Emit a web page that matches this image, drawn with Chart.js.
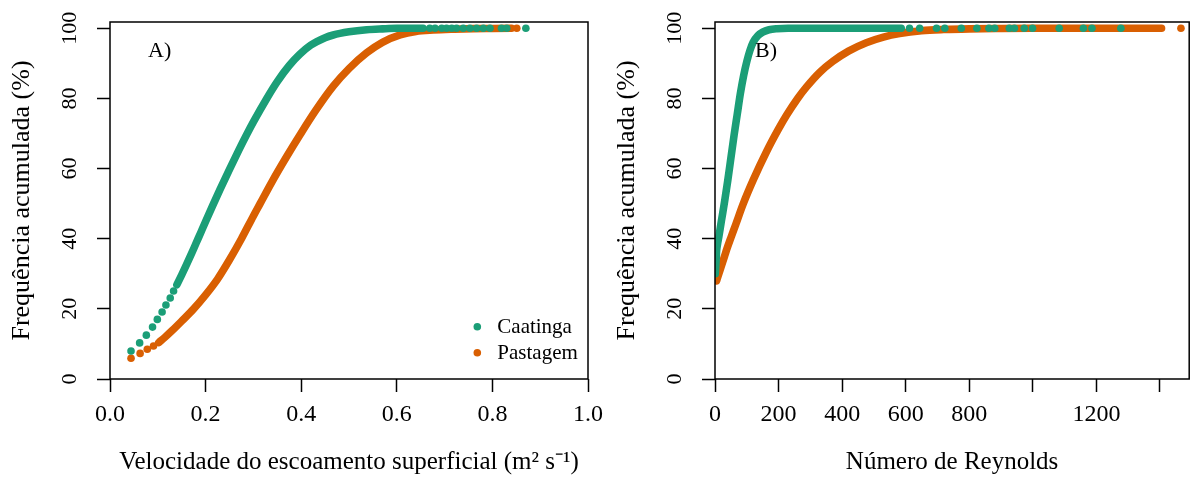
<!DOCTYPE html>
<html>
<head>
<meta charset="utf-8">
<script src="https://cdn.jsdelivr.net/npm/chart.js@4/dist/chart.umd.min.js"></script>
<style>
  html, body { margin: 0; padding: 0; background: #ffffff; }
  #wrap { position: relative; width: 1193px; height: 479px; overflow: hidden; background: #ffffff; }
  canvas { position: absolute; top: 0; }
  #panelA { left: 0; }
  #panelB { left: 600px; }
</style>
</head>
<body>
<div id="wrap">
  <canvas id="panelA" width="640" height="479"></canvas>
  <canvas id="panelB" width="593" height="479"></canvas>
</div>
<script>
// ---- series names and colours ----
const seriesNames = ['Caatinga', 'Pastagem'];
const seriesColors = ['#1b9e77', '#d95f02'];

// ---- shared y axis (cumulative frequency, %) ----
const freqTicks = [0, 20, 40, 60, 80, 100];

// ---- panel A: surface flow velocity (m2 s-1) ----
const velTicks = [0, 0.2, 0.4, 0.6, 0.8, 1.0];
const velTickLabels = ['0.0', '0.2', '0.4', '0.6', '0.8', '1.0'];

// Caatinga: isolated low/high observations and the dense central run
const velCaatingaDotsX = [0.044, 0.062, 0.076, 0.089, 0.099, 0.109, 0.117, 0.126, 0.133,
  0.669, 0.680, 0.694, 0.704, 0.715, 0.725, 0.739, 0.753, 0.767, 0.781, 0.795, 0.819, 0.830, 0.870];
const velCaatingaDotsY = [8.0, 10.3, 12.5, 14.8, 17.0, 19.1, 21.1, 23.1, 25.1,
  100, 100, 100, 100, 100, 100, 100, 100, 100, 100, 100, 100, 100, 100];
const velCaatingaX = [0.140, 0.150, 0.160, 0.170, 0.180, 0.190, 0.200, 0.215, 0.230, 0.250, 0.270, 0.286,
  0.300, 0.328, 0.350, 0.375, 0.397, 0.420, 0.450, 0.467, 0.500, 0.537, 0.570, 0.600, 0.655];
const velCaatingaY = [26.9, 29.7, 32.6, 35.6, 38.7, 41.8, 44.9, 49.5, 54.0, 59.8, 65.4, 69.7,
  73.3, 80.0, 84.8, 89.4, 92.6, 95.2, 97.3, 98.1, 99.0, 99.6, 99.85, 100, 100];

// Pastagem
const velPastagemDotsX = [0.044, 0.063, 0.078, 0.091, 0.851];
const velPastagemDotsY = [5.9, 7.3, 8.5, 9.4, 100];
const velPastagemX = [0.102, 0.115, 0.130, 0.150, 0.175, 0.200, 0.225, 0.250, 0.275, 0.300, 0.314, 0.340, 0.370,
  0.397, 0.430, 0.467, 0.500, 0.537, 0.570, 0.607, 0.640, 0.676, 0.720, 0.760, 0.800, 0.840];
const velPastagemY = [10.4, 11.9, 13.8, 16.5, 20.0, 24.0, 28.5, 34.0, 40.0, 46.5, 50.0, 56.5, 63.5,
  69.5, 76.5, 83.5, 88.5, 93.0, 96.0, 98.1, 99.1, 99.5, 99.75, 99.9, 99.95, 100];

// ---- panel B: Reynolds number ----
const reyTicks = [0, 200, 400, 600, 800, 1000, 1200, 1400];
const reyTickLabels = ['0', '200', '400', '600', '800', '', '1200', ''];

const reyCaatingaX = [1, 3, 5, 8, 12, 20, 30, 40, 50, 60, 70, 80, 90, 100, 110, 120, 135, 150, 170, 195,
  230, 300, 400, 500, 586];
const reyCaatingaY = [30, 33, 36.5, 38.5, 40.5, 45, 50.5, 56.5, 63, 69.5, 75.5, 81.5, 86.5, 90.5, 93.7, 96.0,
  97.9, 98.9, 99.6, 99.9, 100, 100, 100, 100, 100];
const reyCaatingaDotsX = [612, 644, 697, 723, 775, 824, 862, 880, 926, 942, 973, 999, 1083, 1159, 1186, 1277];
const reyCaatingaDotsY = [100, 100, 100, 100, 100, 100, 100, 100, 100, 100, 100, 100, 100, 100, 100, 100];

const reyPastagemX = [5, 12, 20, 30, 37, 50, 65, 89, 120, 162, 200, 225, 260, 288, 330, 371, 420, 476, 530,
  581, 650, 720, 800, 900, 1000, 1100, 1200, 1300, 1405];
const reyPastagemY = [28, 30, 32.2, 35, 37, 40.3, 44, 50, 56.7, 64.8, 71.3, 75.2, 80, 83.3, 87.5, 90.6, 93.5,
  95.9, 97.5, 98.5, 99.3, 99.65, 99.85, 99.95, 100, 100, 100, 100, 100];
const reyPastagemDotsX = [1466];
const reyPastagemDotsY = [100];

// ---- helpers ----
const SERIF = '"Liberation Serif", "Times New Roman", serif';
const DOT_R = 3.8;
const BAND_W = 7.6;

function pts(xs, ys) { return xs.map((x, i) => ({ x: x, y: ys[i] })); }

function band(idx, xs, ys) {
  return {
    label: seriesNames[idx], legendEntry: true, order: idx * 2,
    data: pts(xs, ys), showLine: true,
    borderColor: seriesColors[idx], backgroundColor: seriesColors[idx],
    borderWidth: BAND_W, borderCapStyle: 'round', borderJoinStyle: 'round',
    cubicInterpolationMode: 'monotone',
    pointRadius: 0, pointHoverRadius: 0
  };
}
function dots(idx, xs, ys) {
  return {
    label: seriesNames[idx], legendEntry: false, order: idx * 2 + 1,
    data: pts(xs, ys), showLine: false,
    backgroundColor: seriesColors[idx], borderColor: seriesColors[idx],
    pointRadius: DOT_R, pointBorderWidth: 0, pointHoverRadius: DOT_R
  };
}

// plot frame, panel tag and inset legend
const framePlugin = {
  id: 'frame',
  afterDraw(chart, args, opts) {
    const { ctx, chartArea: a } = chart;
    ctx.save();
    ctx.strokeStyle = '#000';
    ctx.lineWidth = 1.5;
    ctx.strokeRect(a.left, a.top, a.right - a.left, a.bottom - a.top);
    if (opts.tag) {
      ctx.fillStyle = '#000';
      ctx.font = '22px ' + SERIF;
      ctx.textBaseline = 'alphabetic';
      ctx.textAlign = 'left';
      ctx.fillText(opts.tag, a.left + opts.tagDx, a.top + opts.tagDy);
    }
    if (opts.legend) {
      const items = chart.data.datasets.filter(d => d.legendEntry);
      ctx.font = '21px ' + SERIF;
      ctx.textBaseline = 'middle';
      items.forEach((d, i) => {
        const x = a.right - 110.7;
        const y = a.bottom - 52.3 + i * 26;
        ctx.fillStyle = d.borderColor;
        ctx.beginPath();
        ctx.arc(x, y, DOT_R, 0, Math.PI * 2);
        ctx.fill();
        ctx.fillStyle = '#000';
        ctx.fillText(d.label, x + 20, y + 1);
      });
    }
    ctx.restore();
  }
};

function axisGrid() {
  return { drawOnChartArea: false, drawTicks: true, tickLength: 13, tickWidth: 1.5,
           tickColor: '#000', color: '#000' };
}

function makeChart(canvasId, cfg) {
  return new Chart(document.getElementById(canvasId), {
    type: 'scatter',
    data: { datasets: cfg.datasets },
    plugins: [framePlugin],
    options: {
      responsive: false,
      animation: false,
      events: [],
      layout: { padding: { left: 0, right: cfg.padRight, top: 22, bottom: 0 } },
      plugins: {
        legend: { display: false },
        tooltip: { enabled: false },
        frame: { tag: cfg.tag, tagDx: cfg.tagDx, tagDy: 35, legend: cfg.legend }
      },
      scales: {
        x: {
          type: 'linear', min: cfg.xMin, max: cfg.xMax,
          afterBuildTicks: s => { s.ticks = cfg.xTicks.map(v => ({ value: v })); },
          afterFit: s => { s.height = 100; s.paddingLeft = 0; s.paddingRight = 0; },
          grid: axisGrid(),
          border: { display: false },
          ticks: {
            color: '#000', autoSkip: false, maxRotation: 0, minRotation: 0, padding: 8,
            font: { family: SERIF, size: 24 },
            callback: (v, i) => cfg.xLabels[i]
          },
          title: {
            display: true, text: cfg.xTitle, color: '#000',
            font: { family: SERIF, size: 25 }, padding: { top: 0, bottom: 2 }
          }
        },
        y: {
          type: 'linear', min: 0, max: 101.8,
          afterBuildTicks: s => { s.ticks = freqTicks.map(v => ({ value: v })); },
          afterFit: s => { s.width = cfg.yWidth; s.paddingTop = 0; s.paddingBottom = 0; },
          grid: axisGrid(),
          border: { display: false },
          ticks: {
            color: '#000', autoSkip: false, minRotation: 90, maxRotation: 90,
            crossAlign: 'center', padding: 10,
            font: { family: SERIF, size: 22 },
            callback: v => String(v)
          },
          title: {
            display: true, text: 'Frequência acumulada (%)', color: '#000',
            font: { family: SERIF, size: 26 }, padding: { top: cfg.yTitlePad, bottom: 0 }
          }
        }
      }
    }
  });
}

makeChart('panelA', {
  datasets: [
    band(0, velCaatingaX, velCaatingaY),
    dots(0, velCaatingaDotsX, velCaatingaDotsY),
    band(1, velPastagemX, velPastagemY),
    dots(1, velPastagemDotsX, velPastagemDotsY)
  ],
  xMin: 0, xMax: 1, xTicks: velTicks, xLabels: velTickLabels,
  xTitle: 'Velocidade do escoamento superficial (m² s⁻¹)',
  yWidth: 110, yTitlePad: 7, padRight: 52,
  tag: 'A)', tagDx: 38, legend: true
});

makeChart('panelB', {
  datasets: [
    band(0, reyCaatingaX, reyCaatingaY),
    dots(0, reyCaatingaDotsX, reyCaatingaDotsY),
    band(1, reyPastagemX, reyPastagemY),
    dots(1, reyPastagemDotsX, reyPastagemDotsY)
  ],
  xMin: 0, xMax: 1492, xTicks: reyTicks, xLabels: reyTickLabels,
  xTitle: 'Número de Reynolds',
  yWidth: 115, yTitlePad: 12, padRight: 3,
  tag: 'B)', tagDx: 40, legend: false
});
</script>
</body>
</html>
